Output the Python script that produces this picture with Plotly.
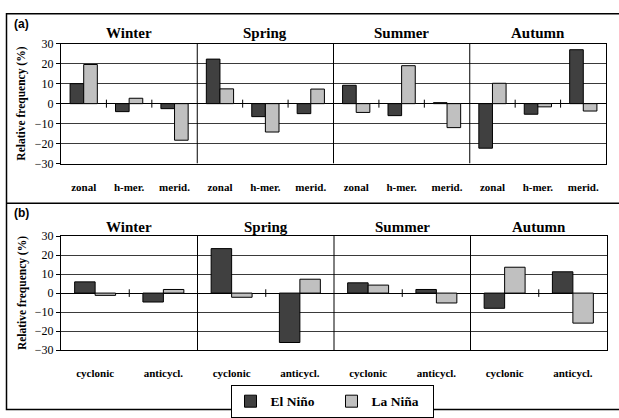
import plotly.graph_objects as go
from plotly.subplots import make_subplots

# --- data ---
seasons = ["Winter", "Spring", "Summer", "Autumn"]
circ_types = ["zonal", "h-mer.", "merid."]
cyc_types = ["cyclonic", "anticycl."]

# panel (a): circulation types, 3 per season
el_nino_a = [10, -4, -2.5, 22.3, -6.5, -5, 9.2, -6, 0.5, -22.3, -5.3, 27]
la_nina_a = [19.6, 2.7, -18.3, 7.4, -14.2, 7.3, -4.4, 19, -12, 10.2, -1.6, -3.7]

# panel (b): cyclonic / anticyclonic, 2 per season
el_nino_b = [5.9, -4.7, 23.4, -26, 5.4, 1.9, -8, 11.2]
la_nina_b = [-1.2, 1.9, -2.2, 7.3, 4.2, -5.2, 13.6, -15.8]

y_ticks = [30, 20, 10, 0, -10, -20, -30]

W, H = 619, 418
SERIF = "Liberation Serif"
DARK = "#404040"
LIGHT = "#c0c0c0"


def px(x):
    return x / W


def py(y):
    return 1 - y / H


fig = make_subplots(rows=2, cols=1)

xa = list(range(len(el_nino_a)))
xb = list(range(len(el_nino_b)))

for row, xs, en, ln in [(1, xa, el_nino_a, la_nina_a), (2, xb, el_nino_b, la_nina_b)]:
    fig.add_trace(go.Bar(x=xs, y=en, name="<b>El Niño</b>", marker_color=DARK,
                         marker_line=dict(color="black", width=1),
                         showlegend=(row == 1), legendgroup="en"), row=row, col=1)
    fig.add_trace(go.Bar(x=xs, y=ln, name="<b>La Niña</b>", marker_color=LIGHT,
                         marker_line=dict(color="black", width=1),
                         showlegend=(row == 1), legendgroup="ln"), row=row, col=1)

xlabels_a = circ_types * len(seasons)
xlabels_b = cyc_types * len(seasons)

common_x = dict(showgrid=False, zeroline=False, showline=True, linecolor="black",
                mirror=True, ticks="outside", ticklen=13, tickcolor="rgba(0,0,0,0)",
                tickfont=dict(family=SERIF, size=11, color="black"))
fig.update_xaxes(domain=[px(61), px(606)], range=[-0.5, 11.5], tickvals=xa,
                 ticktext=[f"<b>{t}</b>" for t in xlabels_a], row=1, col=1, **common_x)
fig.update_xaxes(domain=[px(61), px(607)], range=[-0.5, 7.5], tickvals=xb,
                 ticktext=[f"<b>{t}</b>" for t in xlabels_b], row=2, col=1, **common_x)

common_y = dict(range=[-30, 30], tickvals=y_ticks, showgrid=True, gridcolor="#3a3a3a",
                gridwidth=1, zeroline=True, zerolinecolor="black", zerolinewidth=1,
                showline=True, linecolor="black", mirror=True, ticks="outside",
                ticklen=4, tickcolor="black",
                tickfont=dict(family=SERIF, size=12, color="black"))
fig.update_yaxes(domain=[py(162), py(38)], row=1, col=1, **common_y)
fig.update_yaxes(domain=[py(355), py(237)], row=2, col=1, **common_y)

shapes = []
annotations = []

# season dividers, small zero-line ticks and season titles
for xref, yref, n_per, n_cat in [("x", "y", 3, 12), ("x2", "y2", 2, 8)]:
    for s in range(1, len(seasons)):
        xd = s * n_per - 0.5
        shapes.append(dict(type="line", xref=xref, yref=yref, x0=xd, x1=xd,
                           y0=-30, y1=30, line=dict(color="black", width=1)))
    for k in range(1, n_cat):
        if k % n_per == 0:
            continue
        xk = k - 0.5
        shapes.append(dict(type="line", xref=xref, yref=yref, x0=xk, x1=xk,
                           y0=-2, y1=2, line=dict(color="black", width=1)))
    for s, name in enumerate(seasons):
        xc = s * n_per + (n_per - 1) / 2
        annotations.append(dict(text=f"<b>{name}</b>", xref=xref, yref="paper",
                                x=xc, y=py(27 if xref == "x" else 228),
                                showarrow=False, yanchor="middle",
                                font=dict(family=SERIF, size=15, color="black")))

# panel labels and y-axis titles
for lab, ylab, ytitle in [("(a)", 18, (38 + 162) / 2), ("(b)", 213, (237 + 355) / 2)]:
    annotations.append(dict(text=f"<b>{lab}</b>", xref="paper", yref="paper",
                            x=px(12), y=py(ylab), xanchor="left", yanchor="middle",
                            showarrow=False,
                            font=dict(family="Liberation Sans", size=12, color="black")))
    annotations.append(dict(text="<b>Relative frequency (%)</b>", xref="paper",
                            yref="paper", x=px(22), y=py(ytitle), textangle=-90,
                            showarrow=False, xanchor="center", yanchor="middle",
                            font=dict(family=SERIF, size=11.5, color="black")))

# outer frame and separator
shapes.append(dict(type="rect", xref="paper", yref="paper", x0=px(6.5), x1=px(625),
                   y0=py(416.5), y1=py(7), line=dict(color="black", width=1.5)))
shapes.append(dict(type="line", xref="paper", yref="paper", x0=px(6.5), x1=px(625),
                   y0=py(203), y1=py(203), line=dict(color="black", width=1.5)))

fig.update_layout(
    width=W, height=H,
    margin=dict(l=0, r=0, t=0, b=0),
    paper_bgcolor="white", plot_bgcolor="white",
    font=dict(family=SERIF, color="black"),
    barmode="group", bargap=0.4, bargroupgap=0,
    shapes=shapes, annotations=annotations,
    legend=dict(orientation="h", x=px(332), y=py(391), xanchor="center", yanchor="top",
                bordercolor="black", borderwidth=1, bgcolor="white",
                font=dict(family=SERIF, size=13.5, color="black"),
                entrywidth=56, itemwidth=30, tracegroupgap=0),
)

fig.write_html("out.html", config={"displayModeBar": False},
               post_script="document.body.style.margin='0';")
